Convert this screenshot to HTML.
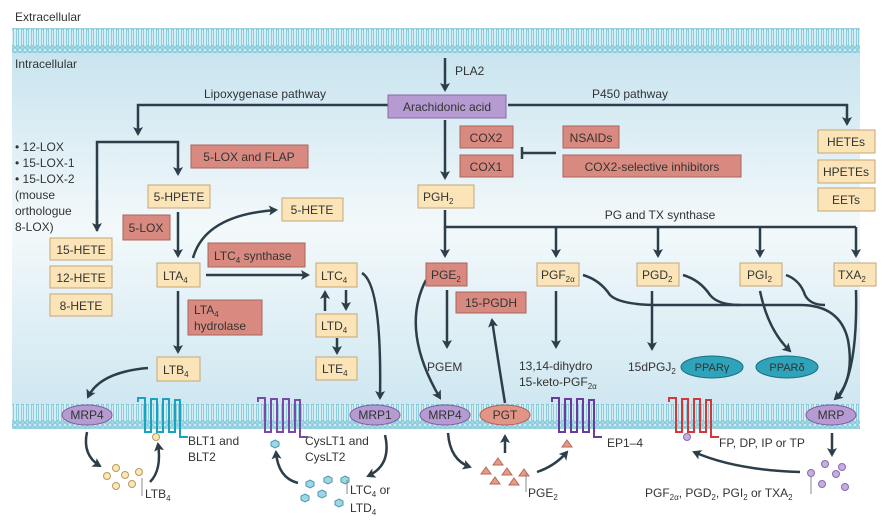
<!DOCTYPE html>
<html><head><meta charset="utf-8"><style>
html,body{margin:0;padding:0;background:#fff;}
svg{display:block;font-family:"Liberation Sans",sans-serif;}
</style></head><body>
<svg width="890" height="524" viewBox="0 0 890 524" xmlns="http://www.w3.org/2000/svg">
<defs>
<linearGradient id="bg" x1="0" y1="0" x2="0" y2="1">
<stop offset="0" stop-color="#c9e4ef"/><stop offset="0.5" stop-color="#f3f9fb"/><stop offset="1" stop-color="#cfe7f1"/>
</linearGradient>
<pattern id="mem" width="5" height="25" patternUnits="userSpaceOnUse">
<rect width="5" height="25" fill="#d3eef5"/>
<circle cx="2.5" cy="2.5" r="2" fill="#9fd6e4" stroke="#5fb3c9" stroke-width="0.6"/>
<circle cx="2.5" cy="22.5" r="2" fill="#9fd6e4" stroke="#5fb3c9" stroke-width="0.6"/>
<line x1="1.6" y1="4.5" x2="1.6" y2="20.5" stroke="#73bfd2" stroke-width="0.7"/>
<line x1="3.4" y1="4.5" x2="3.4" y2="20.5" stroke="#73bfd2" stroke-width="0.7"/>
</pattern>
<marker id="ah" markerWidth="10" markerHeight="10" refX="7" refY="5" orient="auto" markerUnits="userSpaceOnUse">
<path d="M0,0 L9,5 L0,10 L2,5 Z" fill="#2c3e4a"/>
</marker>
</defs>
<rect x="12" y="52" width="848" height="353" fill="url(#bg)"/>
<rect x="12" y="28" width="848" height="25" fill="url(#mem)"/>
<rect x="12" y="404" width="848" height="25" fill="url(#mem)"/>

<g font-size="12" fill="#333">
<text x="15" y="21">Extracellular</text>
<text x="15" y="68">Intracellular</text>
<text x="455" y="75">PLA2</text>
<text x="265" y="98" text-anchor="middle">Lipoxygenase pathway</text>
<text x="630" y="98" text-anchor="middle">P450 pathway</text>
<text x="15" y="151">• 12-LOX</text>
<text x="15" y="167">• 15-LOX-1</text>
<text x="15" y="183">• 15-LOX-2</text>
<text x="15" y="199">(mouse</text>
<text x="15" y="215">orthologue</text>
<text x="15" y="231">8-LOX)</text>
<text x="660" y="219" text-anchor="middle">PG and TX synthase</text>
<text x="427" y="371">PGEM</text>
<text x="519" y="370">13,14-dihydro</text>
<text x="519" y="386">15-keto-PGF<tspan font-size="8" dy="3">2α</tspan></text>
<text x="628" y="371">15dPGJ<tspan font-size="8" dy="3">2</tspan></text>
<text x="188" y="445">BLT1 and</text><text x="188" y="461">BLT2</text>
<text x="305" y="445">CysLT1 and</text><text x="305" y="461">CysLT2</text>
<text x="145" y="498">LTB<tspan font-size="8" dy="3">4</tspan></text>
<text x="350" y="494">LTC<tspan font-size="8" dy="3">4</tspan><tspan dy="-3"> or</tspan></text>
<text x="350" y="512">LTD<tspan font-size="8" dy="3">4</tspan></text>
<text x="528" y="497">PGE<tspan font-size="8" dy="3">2</tspan></text>
<text x="607" y="447">EP1–4</text>
<text x="719" y="447">FP, DP, IP or TP</text>
<text x="645" y="497">PGF<tspan font-size="8" dy="3">2α</tspan><tspan dy="-3">, PGD</tspan><tspan font-size="8" dy="3">2</tspan><tspan dy="-3">, PGI</tspan><tspan font-size="8" dy="3">2</tspan><tspan dy="-3"> or TXA</tspan><tspan font-size="8" dy="3">2</tspan></text>
</g>

<g fill="none" stroke="#2c3e4a" stroke-width="2.5">
<line x1="445" y1="58" x2="445" y2="90" marker-end="url(#ah)"/>
<polyline points="388,105 138,105 138,134" marker-end="url(#ah)"/>
<polyline points="508,105 847,105 847,124" marker-end="url(#ah)"/>
<polyline points="97,231 97,142 178,142 178,174" marker-end="url(#ah)"/>
<line x1="97" y1="200" x2="97" y2="230" marker-end="url(#ah)"/>
<line x1="445" y1="120" x2="445" y2="178" marker-end="url(#ah)"/>
<line x1="556" y1="153" x2="522" y2="153"/>
<line x1="522" y1="147" x2="522" y2="159"/>
<line x1="178" y1="212" x2="178" y2="256" marker-end="url(#ah)"/>
<path d="M193,258 Q205,215 276,210" marker-end="url(#ah)"/>
<line x1="206" y1="275" x2="308" y2="275" marker-end="url(#ah)"/>
<line x1="178" y1="291" x2="178" y2="352" marker-end="url(#ah)"/>
<line x1="325" y1="311" x2="325" y2="292" marker-end="url(#ah)"/>
<line x1="346" y1="290" x2="346" y2="309" marker-end="url(#ah)"/>
<line x1="337" y1="338" x2="337" y2="353" marker-end="url(#ah)"/>
<path d="M362,273 Q382,285 380,398" marker-end="url(#ah)"/>
<path d="M148,368 Q100,372 88,397" marker-end="url(#ah)"/>
<polyline points="445,210 445,227 856,227"/>
<line x1="445" y1="227" x2="445" y2="256" marker-end="url(#ah)"/>
<line x1="556" y1="227" x2="556" y2="256" marker-end="url(#ah)"/>
<line x1="658" y1="227" x2="658" y2="256" marker-end="url(#ah)"/>
<line x1="760" y1="227" x2="760" y2="256" marker-end="url(#ah)"/>
<line x1="856" y1="227" x2="856" y2="256" marker-end="url(#ah)"/>
<line x1="447" y1="290" x2="447" y2="347" marker-end="url(#ah)"/>
<path d="M426,280 Q400,330 440,398" marker-end="url(#ah)"/>
<path d="M505,403 Q498,360 492,320" marker-end="url(#ah)"/>
<line x1="556" y1="291" x2="556" y2="347" marker-end="url(#ah)"/>
<line x1="652" y1="291" x2="652" y2="349" marker-end="url(#ah)"/>
<line x1="682" y1="369" x2="703" y2="369" marker-end="url(#ah)"/>
<path d="M760,291 Q768,330 790,351" marker-end="url(#ah)"/>
<path d="M583,275 Q600,280 610,295 Q620,305 660,305 L800,305 Q840,305 848,340 Q855,380 835,399" marker-end="url(#ah)"/>
<path d="M683,275 Q700,280 710,295 Q718,305 740,305"/>
<path d="M786,275 Q800,280 805,295 Q810,305 825,305"/>
<path d="M856,290 Q858,370 838,398"/>
<path d="M87,432 Q82,455 100,466" marker-end="url(#ah)"/>
<path d="M150,482 Q162,470 158,444" marker-end="url(#ah)"/>
<path d="M385,435 Q392,465 368,476" marker-end="url(#ah)"/>
<path d="M298,483 Q278,478 276,452" marker-end="url(#ah)"/>
<path d="M448,433 Q450,460 470,467" marker-end="url(#ah)"/>
<line x1="505" y1="453" x2="505" y2="436" marker-end="url(#ah)"/>
<path d="M537,472 Q555,466 567,452" marker-end="url(#ah)"/>
<line x1="832" y1="433" x2="832" y2="455" marker-end="url(#ah)"/>
<path d="M800,472 Q735,470 694,452" marker-end="url(#ah)"/>
</g>

<g font-size="12" fill="#333" stroke-width="1">
<rect x="388" y="95" width="118" height="23" fill="#b59bd1" stroke="#8a6aa8"/>
<text x="447" y="111" text-anchor="middle">Arachidonic acid</text>
<g fill="#fbe5b8" stroke="#c6a676">
<rect x="818" y="130" width="57" height="23"/><rect x="818" y="160" width="57" height="23"/><rect x="818" y="188" width="57" height="23"/>
<rect x="50" y="238" width="62" height="22"/><rect x="50" y="266" width="62" height="22"/><rect x="50" y="294" width="62" height="22"/>
<rect x="148" y="185" width="62" height="23"/><rect x="282" y="198" width="61" height="23"/>
<rect x="157" y="263" width="43" height="24"/><rect x="316" y="263" width="41" height="24"/>
<rect x="316" y="314" width="41" height="23"/><rect x="316" y="357" width="41" height="23"/><rect x="157" y="357" width="43" height="24"/>
<rect x="418" y="185" width="56" height="23"/>
<rect x="537" y="263" width="42" height="23"/><rect x="637" y="263" width="42" height="23"/><rect x="740" y="263" width="42" height="23"/><rect x="834" y="263" width="42" height="23"/>
</g>
<g fill="#d98a80" stroke="#a8645c">
<rect x="460" y="126" width="53" height="22"/><rect x="460" y="155" width="53" height="22"/>
<rect x="563" y="126" width="56" height="22"/><rect x="563" y="155" width="178" height="22"/>
<rect x="191" y="145" width="117" height="23"/><rect x="123" y="215" width="47" height="25"/>
<rect x="208" y="243" width="97" height="24"/><rect x="188" y="300" width="74" height="35"/>
<rect x="426" y="263" width="41" height="23"/><rect x="456" y="292" width="70" height="21"/>
</g>
<text x="846" y="146" text-anchor="middle">HETEs</text><text x="846" y="176" text-anchor="middle">HPETEs</text><text x="846" y="204" text-anchor="middle">EETs</text>
<text x="81" y="254" text-anchor="middle">15-HETE</text><text x="81" y="282" text-anchor="middle">12-HETE</text><text x="81" y="310" text-anchor="middle">8-HETE</text>
<text x="179" y="201" text-anchor="middle">5-HPETE</text><text x="312" y="214" text-anchor="middle">5-HETE</text>
<text x="163" y="280">LTA<tspan font-size="8" dy="3">4</tspan></text>
<text x="321" y="280">LTC<tspan font-size="8" dy="3">4</tspan></text>
<text x="321" y="330">LTD<tspan font-size="8" dy="3">4</tspan></text>
<text x="322" y="373">LTE<tspan font-size="8" dy="3">4</tspan></text>
<text x="163" y="374">LTB<tspan font-size="8" dy="3">4</tspan></text>
<text x="423" y="201">PGH<tspan font-size="8" dy="3">2</tspan></text>
<text x="541" y="279">PGF<tspan font-size="8" dy="3">2α</tspan></text>
<text x="642" y="279">PGD<tspan font-size="8" dy="3">2</tspan></text>
<text x="747" y="279">PGI<tspan font-size="8" dy="3">2</tspan></text>
<text x="838" y="279">TXA<tspan font-size="8" dy="3">2</tspan></text>
<text x="486" y="142" text-anchor="middle">COX2</text><text x="486" y="171" text-anchor="middle">COX1</text>
<text x="591" y="142" text-anchor="middle">NSAIDs</text><text x="652" y="171" text-anchor="middle">COX2-selective inhibitors</text>
<text x="249" y="161" text-anchor="middle">5-LOX and FLAP</text><text x="146" y="232" text-anchor="middle">5-LOX</text>
<text x="214" y="260">LTC<tspan font-size="8" dy="3">4</tspan><tspan dy="-3"> synthase</tspan></text>
<text x="194" y="314">LTA<tspan font-size="8" dy="3">4</tspan></text><text x="194" y="330">hydrolase</text>
<text x="431" y="279">PGE<tspan font-size="8" dy="3">2</tspan></text>
<text x="491" y="307" text-anchor="middle">15-PGDH</text>
</g>

<g font-size="12" fill="#333">
<ellipse cx="87" cy="415" rx="25" ry="10" fill="#b59bd1" stroke="#7e5e9e"/><text x="87" y="419" text-anchor="middle">MRP4</text>
<ellipse cx="375" cy="415" rx="25" ry="10" fill="#b59bd1" stroke="#7e5e9e"/><text x="375" y="419" text-anchor="middle">MRP1</text>
<ellipse cx="445" cy="415" rx="25" ry="10" fill="#b59bd1" stroke="#7e5e9e"/><text x="445" y="419" text-anchor="middle">MRP4</text>
<ellipse cx="505" cy="415" rx="25" ry="10" fill="#e39585" stroke="#a8645c"/><text x="505" y="419" text-anchor="middle">PGT</text>
<ellipse cx="831" cy="415" rx="25" ry="10" fill="#b59bd1" stroke="#7e5e9e"/><text x="831" y="419" text-anchor="middle">MRP</text>
<ellipse cx="712" cy="367" rx="31" ry="11" fill="#2ea3b9" stroke="#1a6f82"/><text x="712" y="371" text-anchor="middle" font-size="11">PPARγ</text>
<ellipse cx="787" cy="367" rx="31" ry="11" fill="#2ea3b9" stroke="#1a6f82"/><text x="787" y="371" text-anchor="middle" font-size="11">PPARδ</text>
</g>

<g fill="none" stroke-width="2">
<path d="M138,402 L138,398 L145,398 L145,432 L151,432 L151,399 L157,399 L157,432 L163,432 L163,399 L169,399 L169,432 L175,432 L175,400 L180,400 L180,437 L188,437" stroke="#18a4bf"/>
<path d="M258,402 L258,398 L265,398 L265,432 L271,432 L271,399 L277,399 L277,432 L283,432 L283,399 L289,399 L289,432 L295,432 L295,400 L300,400 L300,437 L308,437" stroke="#7a4aa8"/>
<path d="M552,402 L552,398 L559,398 L559,432 L565,432 L565,399 L571,399 L571,432 L577,432 L577,399 L583,399 L583,432 L589,432 L589,400 L594,400 L594,437 L602,437" stroke="#6a3aa0"/>
<path d="M669,402 L669,398 L676,398 L676,432 L682,432 L682,399 L688,399 L688,432 L694,432 L694,399 L700,399 L700,432 L706,432 L706,400 L711,400 L711,437 L719,437" stroke="#d23a3a"/>
</g>

<g fill="#fbe8b5" stroke="#b79a60" stroke-width="1">
<circle cx="156" cy="437" r="3.5"/>
<circle cx="107" cy="476" r="3.5"/><circle cx="116" cy="468" r="3.5"/><circle cx="125" cy="475" r="3.5"/><circle cx="139" cy="472" r="3.5"/><circle cx="116" cy="486" r="3.5"/><circle cx="132" cy="484" r="3.5"/>
</g>
<g fill="#9fd6e6" stroke="#4a9ab0" stroke-width="1">
<polygon points="275,440 279,442 279,446 275,448 271,446 271,442"/>
<polygon points="310,480 314,482 314,486 310,488 306,486 306,482"/>
<polygon points="328,476 332,478 332,482 328,484 324,482 324,478"/>
<polygon points="345,476 349,478 349,482 345,484 341,482 341,478"/>
<polygon points="305,494 309,496 309,500 305,502 301,500 301,496"/>
<polygon points="322,490 326,492 326,496 322,498 318,496 318,492"/>
<polygon points="339,499 343,501 343,505 339,507 335,505 335,501"/>
</g>
<g fill="#e69a86" stroke="#b66a58" stroke-width="1">
<polygon points="567,440 572,447 562,447"/>
<polygon points="498,458 503,465 493,465"/><polygon points="486,467 491,474 481,474"/><polygon points="507,468 512,475 502,475"/><polygon points="524,469 529,476 519,476"/>
<polygon points="495,477 500,484 490,484"/><polygon points="514,478 519,485 509,485"/>
</g>
<g fill="#c3aee0" stroke="#8a6ab0" stroke-width="1">
<circle cx="687" cy="437" r="3.5"/>
<circle cx="825" cy="464" r="3.5"/><circle cx="842" cy="467" r="3.5"/><circle cx="811" cy="473" r="3.5"/><circle cx="836" cy="474" r="3.5"/><circle cx="822" cy="484" r="3.5"/><circle cx="845" cy="487" r="3.5"/>
</g>
<g stroke="#888" stroke-width="1">
<line x1="142" y1="478" x2="142" y2="496"/><line x1="347" y1="480" x2="347" y2="494"/><line x1="526" y1="473" x2="526" y2="492"/><line x1="811" y1="477" x2="811" y2="494"/>
</g>
</svg>
</body></html>
